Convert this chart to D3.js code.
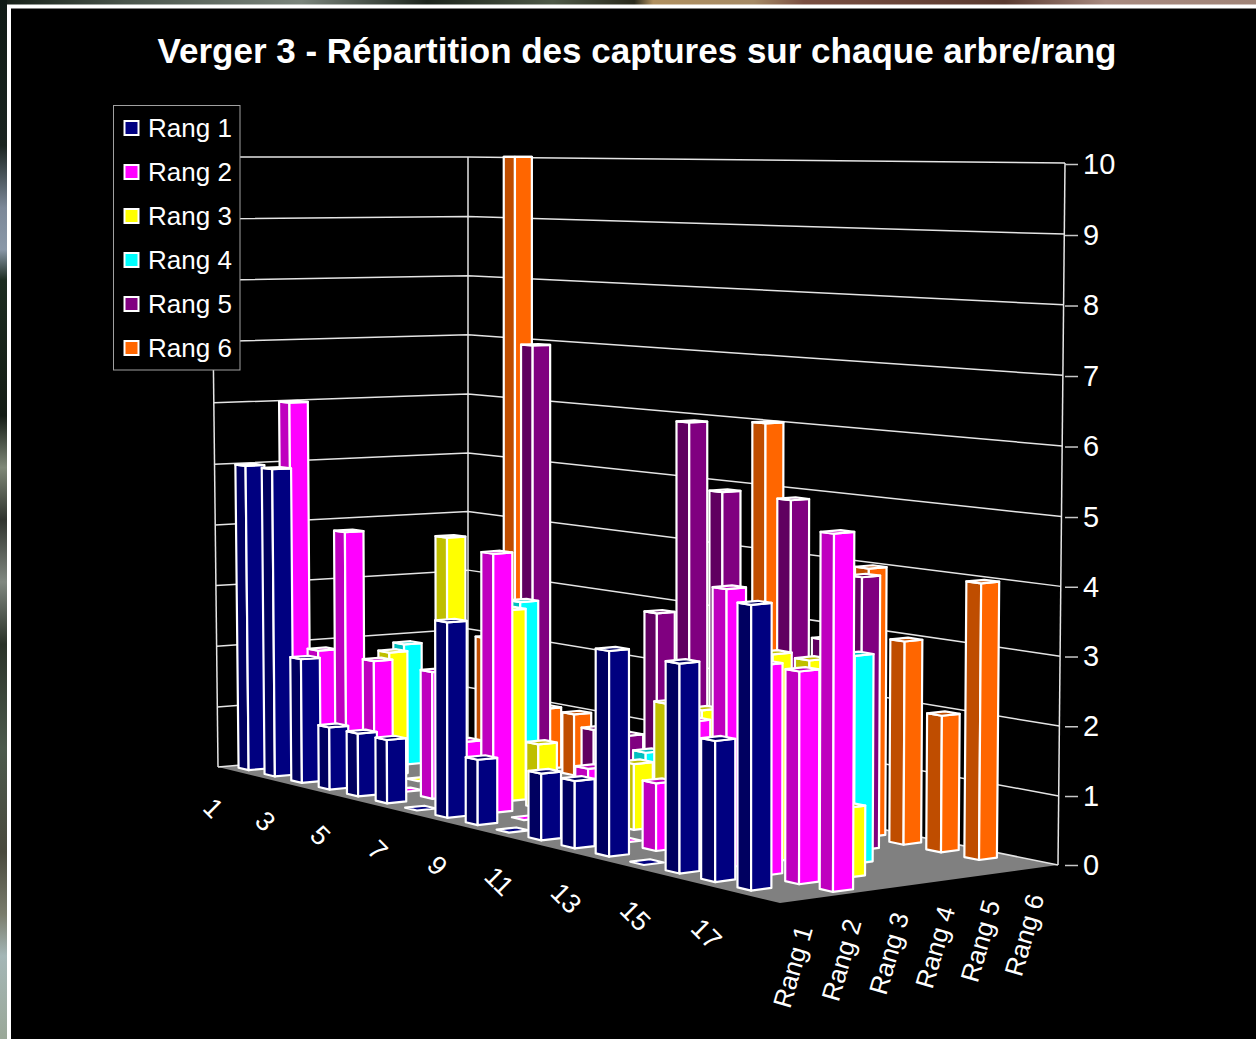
<!DOCTYPE html>
<html><head><meta charset="utf-8">
<script src="https://cdn.jsdelivr.net/npm/d3@7"></script>
<style>html,body{margin:0;padding:0;background:#000;overflow:hidden}svg{display:block}text{font-family:"Liberation Sans",Arial,sans-serif;fill:#fff}</style>
</head><body><svg id="c" width="1256" height="1039"></svg>
<script>
const categories=[1,2,3,4,5,6,7,8,9,10,11,12,13,14,15,16,17,18];
const shownCategories=[1,3,5,7,9,11,13,15,17];
const seriesNames=["Rang 1","Rang 2","Rang 3","Rang 4","Rang 5","Rang 6"];
const rang1=[5,5,2,1,1,1,0,3,1,0,1,1,3,0,3,2,4,null];
const rang2=[6,2,4,2,0,2,1,4,0,null,1,0,1,2,4,3,3,5];
const rang3=[null,null,2,0,4,null,3,1,null,null,1,2,2,null,3,3,1,null];
const rang4=[null,2,null,null,null,3,null,null,null,1,null,null,null,null,null,3,null,null];
const rang5=[null,null,null,null,7,null,1,1,3,6,5,null,5,3,4,null,null,null];
const rang6=[null,2,10,1,1,null,null,null,null,null,6,null,null,4,3,2,4,null];
const seriesValues=[rang1,rang2,rang3,rang4,rang5,rang6];
const brightColors=["#000080","#ff00ff","#ffff00","#00ffff","#800080","#ff6600"];
const darkColors=["#000060","#bf00bf","#bfbf00","#00bfbf","#600060","#bf4d00"];
const valueTicks=[0,1,2,3,4,5,6,7,8,9,10];

const svg=d3.select("#c");
function homography(q){
  const [[x0,y0],[x1,y1],[x2,y2],[x3,y3]]=q;
  const dx1=x1-x2,dx2=x3-x2,sx=x0-x1+x2-x3,dy1=y1-y2,dy2=y3-y2,sy=y0-y1+y2-y3;
  const det=dx1*dy2-dx2*dy1;
  const g=(sx*dy2-dx2*sy)/det,h=(dx1*sy-sx*dy1)/det;
  const a=x1-x0+g*x1,b=x3-x0+h*x3,c=x0,d=y1-y0+g*y1,e=y3-y0+h*y3,f=y0;
  return (u,v)=>{const w=g*u+h*v+1;return [(a*u+b*v+c)/w,(d*u+e*v+f)/w];};
}
const floorH=homography([[218,767],[780,903],[1058,865],[468,745]]);
const uScale=d3.scaleLinear().domain([0,4.5,7.5,10.5,12.5,14.5,16.5,17.5,18])
  .range([0,.2633,.4363,.6029,.7154,.8252,.9309,.9772,1]);
const wScale=d3.scaleLinear().domain([0,seriesNames.length]).range([0,1]);
const vScale=d3.scaleLinear().domain([0,1,5,9,10]).range([0,.0984,.4964,.8987,1]);
const driftScale=d3.scaleLinear().domain([218,468,740,1058]).range([-7,0,0,7]);
const rowShift=d3.scaleLinear().domain([0,10.5,14.5,16.5,18]).range([0,0,-6.5,-5,0]);
const H=[610,730,702,588];
function fullHeight(u,w){
  const a=1/H[0]+(1/H[1]-1/H[0])*u, b=1/H[3]+(1/H[2]-1/H[3])*u;
  return 1/(a+(b-a)*w);
}
function P(i,s,v){
  const u=uScale(i),w=wScale(s),t=vScale(v);
  const a=floorH(u,w);
  return [a[0]+rowShift(i)*w+driftScale(a[0])*t,a[1]-fullHeight(u,w)*t];
}
const line=d3.line();
const poly=pts=>line(pts)+"Z";

const defs=svg.append("defs");
const gt=defs.append("linearGradient").attr("id","gt");
[["0","#141e16"],["0.1","#4a554c"],["0.24","#7b857c"],["0.34","#1c241c"],["0.44","#4f5a48"],["0.505","#2a2a1c"],["0.52","#b09060"],["0.6","#a58a66"],["0.64","#7a4f42"],["0.8","#5a3a30"],["0.88","#a88a80"],["1","#a08478"]].forEach(d=>gt.append("stop").attr("offset",d[0]).attr("stop-color",d[1]));
const gl=defs.append("linearGradient").attr("id","gl").attr("x1",0).attr("x2",0).attr("y1",0).attr("y2",1);
[["0","#0f1a14"],["0.14","#1a2420"],["0.2","#7c8898"],["0.24","#8a98a8"],["0.27","#1c2c20"],["0.4","#141c14"],["0.45","#7f8878"],["0.5","#30342e"],["0.56","#808880"],["0.62","#2a3228"],["0.72","#4c5a4c"],["0.82","#4a4a3c"],["0.88","#7a7c6c"],["0.92","#a4b6b6"],["1","#9aa898"]].forEach(d=>gl.append("stop").attr("offset",d[0]).attr("stop-color",d[1]));
svg.append("rect").attr("width",1256).attr("height",5).attr("fill","url(#gt)");
svg.append("rect").attr("width",7).attr("height",1039).attr("fill","url(#gl)");
svg.append("rect").attr("x",7).attr("y",4.5).attr("width",1249).attr("height",1035).attr("fill","#fff");
svg.append("rect").attr("x",11).attr("y",8.5).attr("width",1245).attr("height",1031).attr("fill","#000");

svg.append("text").attr("x",637).attr("y",63).attr("text-anchor","middle").attr("font-weight","bold").attr("font-size",35).text("Verger 3 - Répartition des captures sur chaque arbre/rang");

const nC=categories.length,nS=seriesNames.length;
svg.append("path").attr("d",poly([P(0,0,0),P(nC,0,0),P(nC,nS,0),P(0,nS,0)])).attr("fill","#808080");
const grid=svg.append("g").attr("fill","none").attr("stroke","#e4e4e4").attr("stroke-width",1.5);
valueTicks.forEach(v=>{
  grid.append("path").attr("d",line([P(0,0,v),P(0,nS,v),P(nC,nS,v)]));
});
[[0,0],[0,nS],[nC,nS]].forEach(c=>grid.append("path").attr("d",line([P(c[0],c[1],0),P(c[0],c[1],10)])));

const yAxisScale=d3.scaleLinear().domain(vScale.domain()).range(vScale.range().map(t=>865-701*t));
const yAxis=svg.append("g").attr("transform","translate(1065,0)").call(d3.axisRight(yAxisScale).tickValues(valueTicks).tickSize(13).tickPadding(5).tickFormat(d3.format("d")));
yAxis.select(".domain").remove();
yAxis.selectAll("line").attr("stroke","#c8c8c8").attr("stroke-width",1.5);
yAxis.selectAll("text").attr("font-size",29).attr("font-family","Liberation Sans").attr("fill","#fff");

const wu=0.39,ww=0.42;
const bars=svg.append("g").attr("stroke","#fff").attr("stroke-width",2.2).attr("stroke-linejoin","round");
d3.range(nS-1,-1,-1).forEach(s=>{
  seriesValues[s].forEach((v,i)=>{
    if(v===null)return;
    const cu=i+.5,cw=s+.5;
    const u0=cu-wu/2,u1=cu+wu/2,w0=cw-ww/2,w1=cw+ww/2;
    const g=bars.append("g");
    if(v>0){
      g.append("path").attr("d",poly([P(u0,w0,0),P(u1,w0,0),P(u1,w0,v),P(u0,w0,v)])).attr("fill",darkColors[s]);
      g.append("path").attr("d",poly([P(u1,w0,0),P(u1,w1,0),P(u1,w1,v),P(u1,w0,v)])).attr("fill",brightColors[s]);
    }
    g.append("path").attr("d",poly([P(u0,w0,v),P(u1,w0,v),P(u1,w1,v),P(u0,w1,v)])).attr("fill",v>0?darkColors[s]:brightColors[s]);
  });
});

const offX=d3.scaleLinear().domain([1,17]).range([-17.5,-24.5]);
const offY=d3.scaleLinear().domain([1,17]).range([38,43]);
svg.append("g").selectAll("text").data(shownCategories).join("text")
  .attr("font-size",27).attr("text-anchor","middle").attr("dominant-baseline","central")
  .attr("transform",d=>{const p=P(d-.5,0,0);return `translate(${p[0]+offX(d)},${p[1]+offY(d)}) rotate(45)`;})
  .text(d=>d);
svg.append("g").selectAll("text").data(seriesNames).join("text")
  .attr("font-size",26).attr("text-anchor","middle").attr("dominant-baseline","central")
  .attr("transform",(d,i)=>{const p=P(nC,i+.5,0);return `translate(${p[0]-12},${p[1]+67}) rotate(-74)`;})
  .text(d=>d);

const lg=svg.append("g");
lg.append("rect").attr("x",113.5).attr("y",105.5).attr("width",126.5).attr("height",264.5).attr("fill","#000").attr("stroke","#a0a0a0").attr("stroke-width",1);
const rowY=d3.scalePoint().domain(seriesNames).range([128,348]);
seriesNames.forEach((n,i)=>{
  lg.append("rect").attr("x",124.5).attr("y",rowY(n)-7).attr("width",14).attr("height",14).attr("fill",brightColors[i]).attr("stroke","#fff").attr("stroke-width",2);
  lg.append("text").attr("x",148).attr("y",rowY(n)).attr("dominant-baseline","central").attr("font-size",26).text(n);
});
</script></body></html>
